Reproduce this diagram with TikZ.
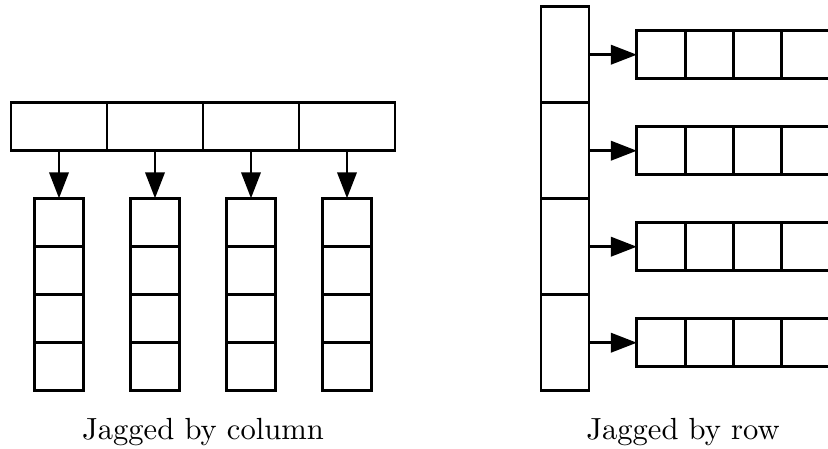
\documentclass[tikz,border=0pt]{standalone}
\usetikzlibrary{arrows.meta}
\begin{document}
\def\u{0.327pt}
\begin{tikzpicture}[x=\u,y=-\u,
  cell/.style={draw,line width=0.95pt,inner sep=0pt,outer sep=0pt},
  hcell/.style={cell,minimum width=96*\u,minimum height=48*\u},
  vcell/.style={cell,minimum width=48*\u,minimum height=96*\u},
  sq/.style={cell,minimum width=48.3*\u,minimum height=48*\u},
  link/.style={line width=0.95pt,-{Triangle[length=8.5pt,width=6.3pt]}},
  caption/.style={anchor=base,inner sep=0pt}]
\useasboundingbox (0,0) rectangle (828,448);

% jagged by column: one row of pointers, each to its own column
\foreach \i in {1,...,4} {
  \pgfmathsetmacro\cx{59+96*(\i-1)}
  \node[hcell] (t\i) at (\cx,126.7) {};
  \foreach \j in {1,...,4} {
    \pgfmathsetmacro\cy{222.3+48*(\j-1)}
    \node[sq] (c\i-\j) at (\cx,\cy) {};
  }
  \draw[link] (t\i.south) -- (c\i-1.north);
}

% jagged by row: one column of pointers, each to its own row
\foreach \i in {1,...,4} {
  \pgfmathsetmacro\cy{54.7+96*(\i-1)}
  \node[vcell] (v\i) at (565,\cy) {};
  \foreach \j in {1,...,4} {
    \pgfmathsetmacro\cx{661+48.3*(\j-1)}
    \node[sq] (r\i-\j) at (\cx,\cy) {};
  }
  \draw[link] (v\i.east) -- (r\i-1.west);
}

\node[caption] (lcol) at (203,439) {Jagged by column};
\node[caption] (lrow) at (683,439) {Jagged by row};
\end{tikzpicture}
\end{document}
